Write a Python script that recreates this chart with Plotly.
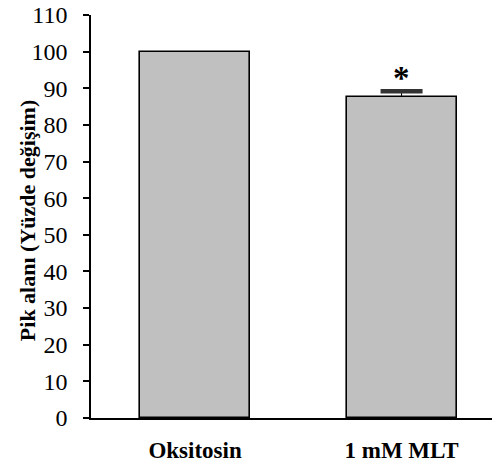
import plotly.graph_objects as go

categories = ["Oksitosin", "1 mM MLT"]
values = [100, 87.6]
errors_plus = [0, 1.6]
significance = ["", "*"]
y_ticks = list(range(0, 111, 10))
y_title = "Pik alanı (Yüzde değişim)"

serif = "Liberation Serif"
xpos = list(range(len(categories)))

fig = go.Figure()
fig.add_trace(go.Bar(
    x=xpos, y=values, width=0.533,
    marker=dict(color="#C0C0C0", line=dict(color="black", width=1.6)),
    error_y=dict(type="data", array=errors_plus, symmetric=False,
                 arrayminus=[0, 0], thickness=1, width=0, color="black"),
    showlegend=False,
))
# thick cap of the error bar
cap_x = [x for x, e in zip(xpos, errors_plus) if e > 0]
cap_y = [v + e for v, e in zip(values, errors_plus) if e > 0]
fig.add_trace(go.Scatter(
    x=cap_x, y=cap_y, mode="markers",
    marker=dict(symbol="line-ew", size=30, line=dict(color="#333333", width=4.5)),
    showlegend=False, hoverinfo="skip",
))
for x, v, e, s in zip(xpos, values, errors_plus, significance):
    if s:
        fig.add_annotation(x=x, y=v + e, text="<b>" + s + "</b>", showarrow=False,
                           yanchor="bottom", yshift=-7,
                           font=dict(family=serif, size=33, color="black"))

# y-axis title as a rotated annotation
fig.add_annotation(xref="paper", yref="paper", x=-0.158, y=0.49,
                   xanchor="center", yanchor="middle", textangle=-90,
                   text="<b>" + y_title + "</b>", showarrow=False,
                   font=dict(family=serif, size=22, color="black"))

fig.update_layout(
    width=497, height=466,
    margin=dict(l=91, r=5, t=15, b=48, autoexpand=False),
    plot_bgcolor="white", paper_bgcolor="white",
    font=dict(family=serif, color="black", size=19),
    bargap=0,
    yaxis=dict(
        range=[0, 110], tickmode="array", tickvals=y_ticks,
        ticktext=[str(t) for t in y_ticks],
        tickfont=dict(family=serif, size=24, color="black"),
        ticklabeloverflow="allow", automargin=False,
        showline=True, linecolor="black", linewidth=1.6,
        ticks="outside", ticklen=6, tickwidth=1.6, tickcolor="black",
        showgrid=False, zeroline=False, ticklabelstandoff=11,
    ),
    xaxis=dict(
        range=[-0.504, 1.438], tickmode="array", tickvals=xpos,
        ticktext=["<b>" + c + "</b>" for c in categories],
        tickfont=dict(family=serif, size=23, color="black"),
        ticklabeloverflow="allow", automargin=False,
        showline=True, linecolor="black", linewidth=1.6,
        ticks="", showgrid=False, zeroline=False, ticklabelstandoff=11,
    ),
)

fig.write_html("out.html")
